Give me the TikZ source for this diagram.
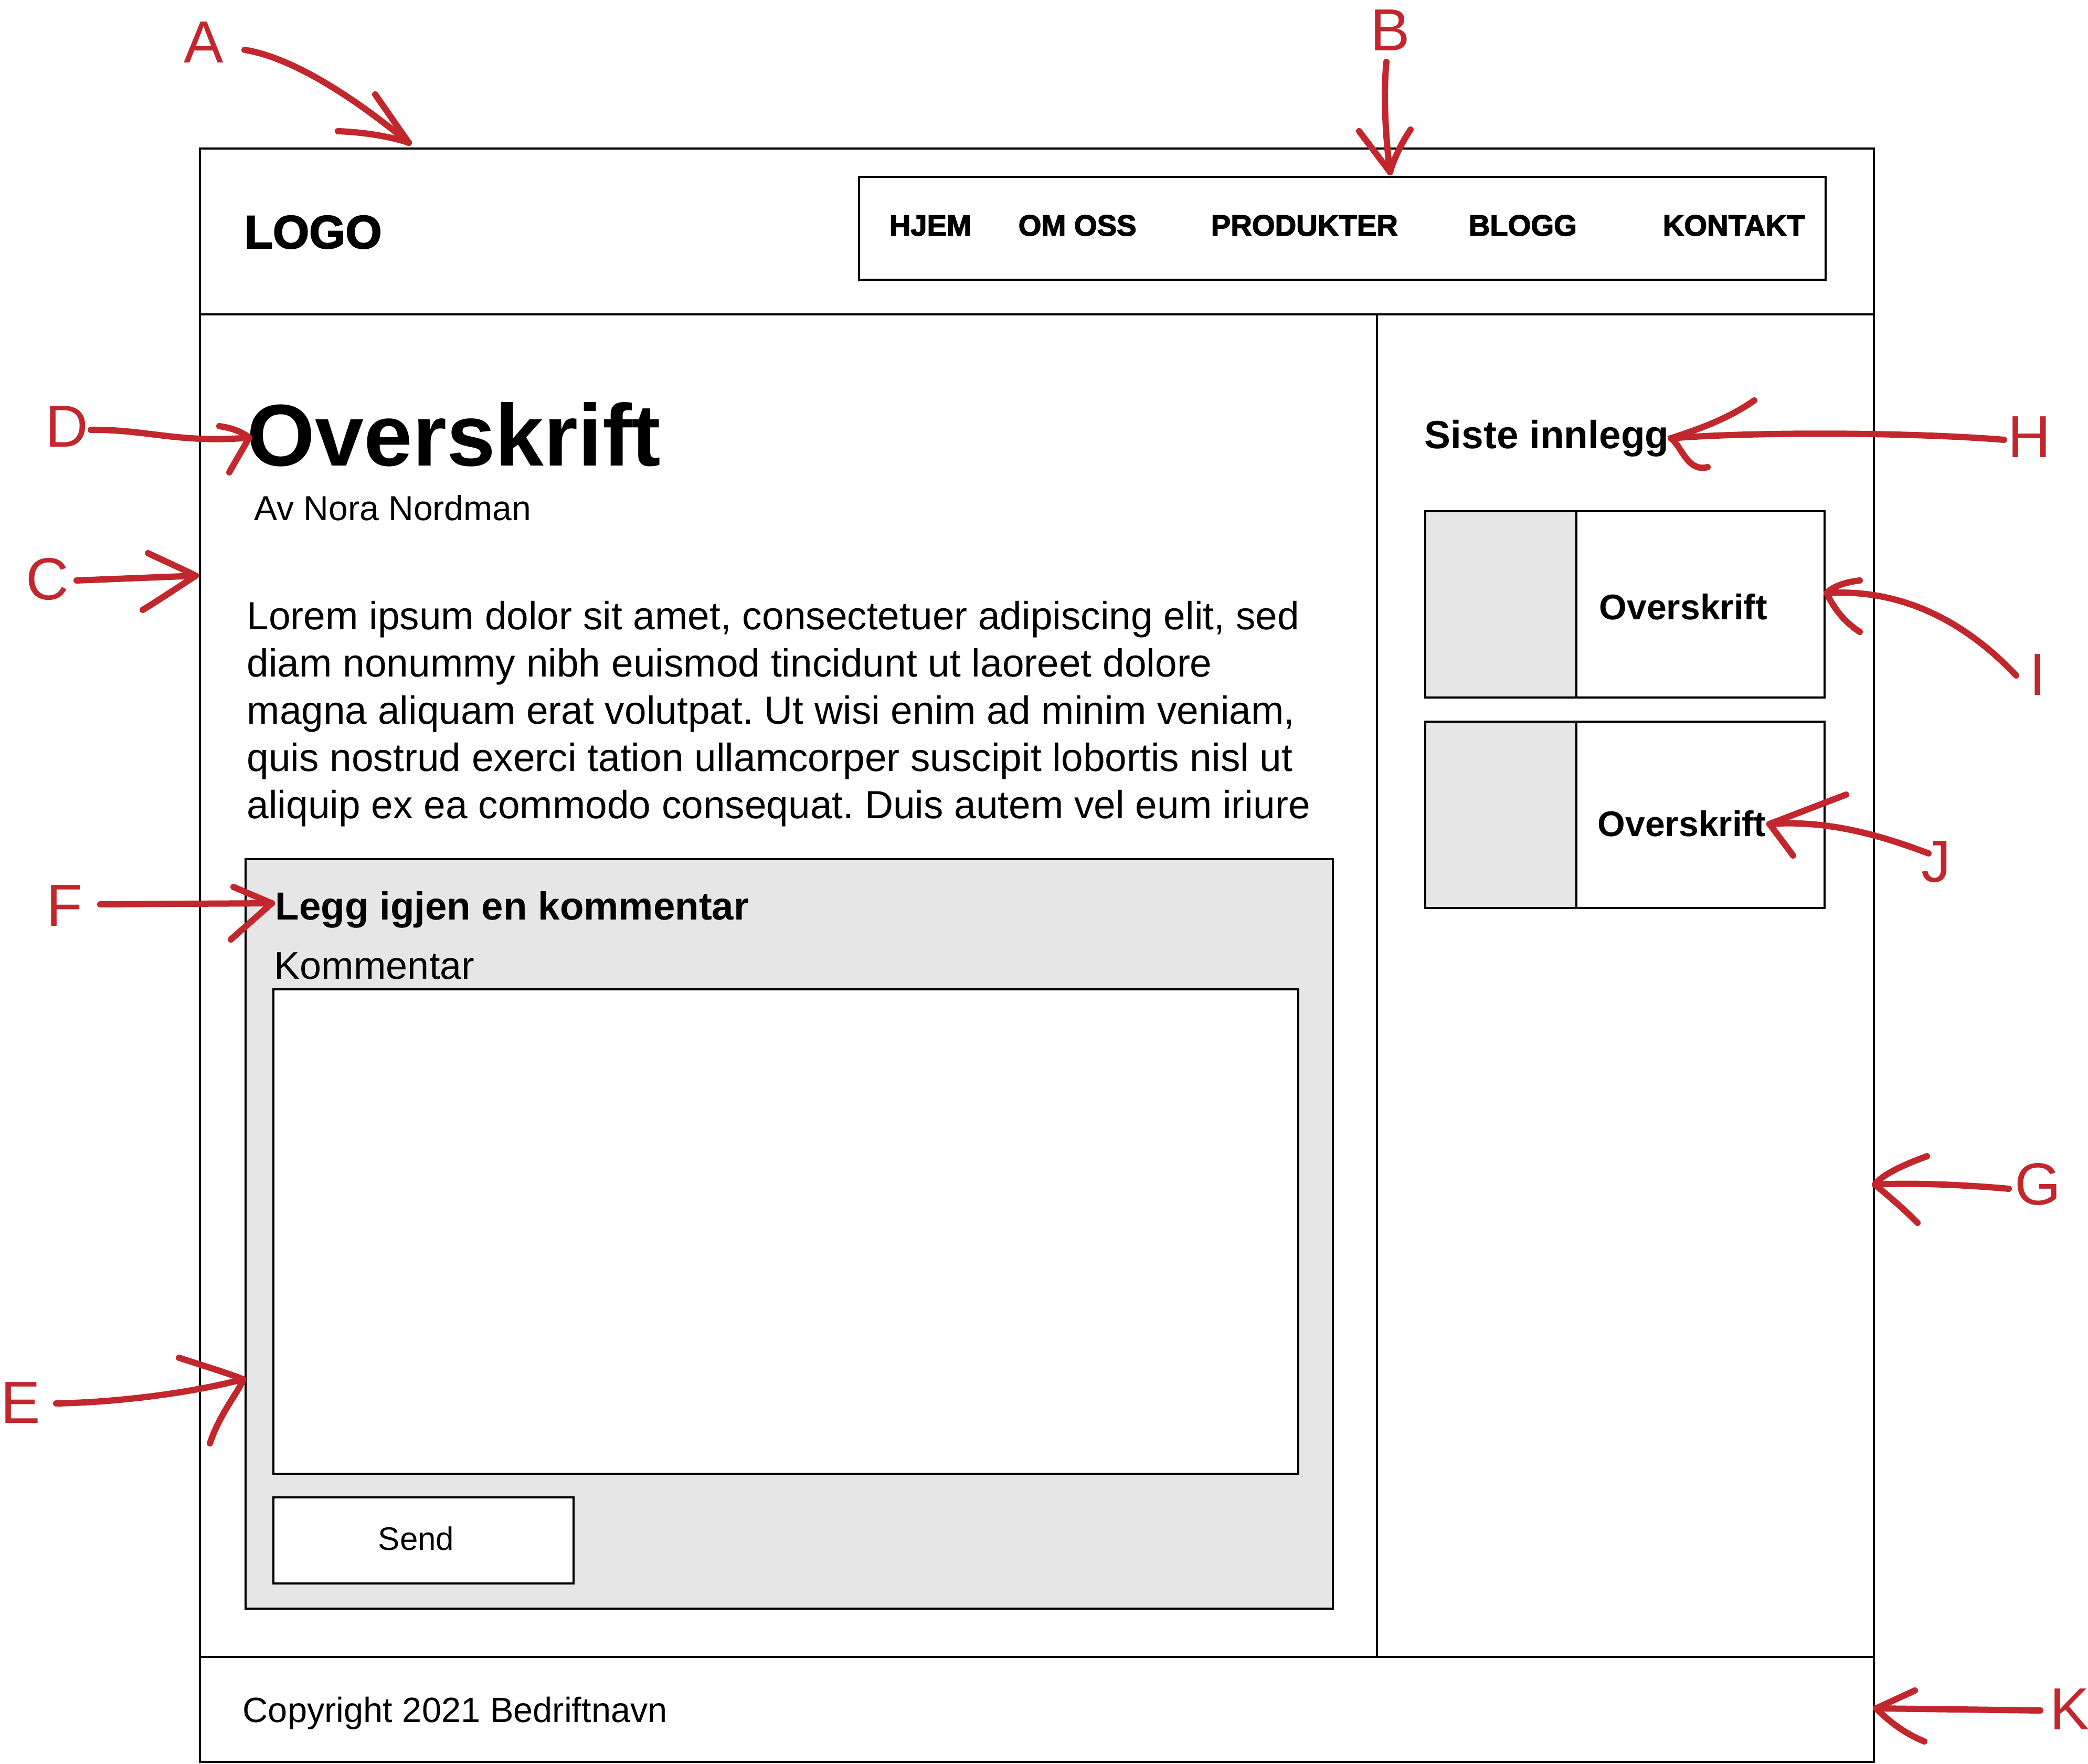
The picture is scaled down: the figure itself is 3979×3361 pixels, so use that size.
\documentclass[tikz,border=0pt]{standalone}
\usepackage{fontspec}
\setmainfont{Liberation Sans}
\newfontfamily\heavyfont[FakeBold=2.5]{Liberation Sans Bold}
\definecolor{markred}{RGB}{193,39,45}
\definecolor{panelgray}{RGB}{230,230,230}
\newcommand\fsz[1]{\fontsize{#1}{#1}\selectfont}
\frenchspacing
\begin{document}
\begin{tikzpicture}[x=0.1mm,y=-0.1mm,
  box/.style={draw=black,line width=0.45mm},
  txt/.style={inner sep=0pt,anchor=base west,text=black},
  redstroke/.style={draw=markred,line width=1.2mm,line cap=round,line join=round},
  lbl/.style={inner sep=0pt,anchor=base,text=markred,font=\fsz{32.2}}]
\useasboundingbox (0,0) rectangle (3979,3361);
\fill[white] (0,0) rectangle (3979,3361);

% page frame: header, content, footer
\draw[box] (381,283) rectangle (3571,599);
\draw[box] (381,599) rectangle (3571,3157);
\draw[box] (381,3157) rectangle (3571,3357);
\draw[box] (2624,599) -- (2624,3157);

% navigation bar
\draw[box] (1637,337) rectangle (3479,533);
\node[txt,font=\heavyfont\fsz{25.3}] (logo) at (465,473) {LOGO};
\node[txt,font=\heavyfont\fsz{16}] (nav1) at (1694,449) {HJEM};
\node[txt,font=\heavyfont\fsz{16}] (nav2) at (1940,449) {OM OSS};
\node[txt,font=\heavyfont\fsz{16}] (nav3) at (2307,449) {PRODUKTER};
\node[txt,font=\heavyfont\fsz{16}] (nav4) at (2798,449) {BLOGG};
\node[txt,font=\heavyfont\fsz{16}] (nav5) at (3168,449) {KONTAKT};

% article
\node[txt,font=\bfseries\fsz{47.5}] (title) at (470,888) {Overskrift};
\node[txt,font=\fsz{18.8}] (byline) at (484,992) {Av Nora Nordman};
\node[txt,font=\fsz{21.3}] (body1) at (470,1200) {Lorem ipsum dolor sit amet, consectetuer adipiscing elit, sed};
\node[txt,font=\fsz{21.3}] (body2) at (470,1290) {diam nonummy nibh euismod tincidunt ut laoreet dolore};
\node[txt,font=\fsz{21.3}] (body3) at (470,1380) {magna aliquam erat volutpat. Ut wisi enim ad minim veniam,};
\node[txt,font=\fsz{21.3}] (body4) at (470,1470) {quis nostrud exerci tation ullamcorper suscipit lobortis nisl ut};
\node[txt,font=\fsz{21.3}] (body5) at (470,1560) {aliquip ex ea commodo consequat. Duis autem vel eum iriure};

% comment form
\draw[box,fill=panelgray] (468,1637) rectangle (2540,3065);
\node[txt,font=\bfseries\fsz{21.2}] (formtitle) at (524,1752) {Legg igjen en kommentar};
\node[txt,font=\fsz{21}] (fieldlabel) at (522,1865) {Kommentar};
\draw[box,fill=white] (521,1885) rectangle (2474,2808);
\draw[box,fill=white] (521,2853) rectangle (1093,3017);
\node[inner sep=0pt,anchor=base,font=\fsz{17.6}] (send) at (793,2953) {Send};

% sidebar
\node[txt,font=\bfseries\fsz{21.3}] (recent) at (2714,855) {Siste innlegg};
\draw[box] (2716,974) rectangle (3477,1329);
\draw[box,fill=panelgray] (2716,974) rectangle (3004,1329);
\node[txt,font=\bfseries\fsz{19.3}] (card1) at (3047,1181) {Overskrift};
\draw[box] (2716,1375) rectangle (3477,1730);
\draw[box,fill=panelgray] (2716,1375) rectangle (3004,1730);
\node[txt,font=\bfseries\fsz{19.3}] (card2) at (3044,1594) {Overskrift};

% footer
\node[txt,font=\fsz{19}] (copy) at (462,3281) {Copyright 2021 Bedriftnavn};

% annotation letters
\node[lbl] (lA) at (388,120) {A};
\node[lbl] (lB) at (2649,97) {B};
\node[lbl] (lC) at (90,1143) {C};
\node[lbl] (lD) at (127,852) {D};
\node[lbl] (lE) at (39,2711) {E};
\node[lbl] (lF) at (123,1764) {F};
\node[lbl] (lG) at (3883,2295) {G};
\node[lbl] (lH) at (3867,872) {H};
\node[lbl] (lI) at (3883,1325) {I};
\node[lbl] (lJ) at (3690,1680) {J};
\node[lbl] (lK) at (3944,3295) {K};

% hand-drawn annotation arrows
% A
\coordinate (sA) at (466,95); \coordinate (tA) at (779,272);
\coordinate (aA1) at (715,180); \coordinate (aA2) at (644,250);
\draw[redstroke] (sA) .. controls (560,110) and (680,190) .. (tA);
\draw[redstroke] (aA1) -- (tA);
\draw[redstroke] (aA2) .. controls (700,252) and (750,262) .. (tA);
% B
\coordinate (sB) at (2642,118); \coordinate (tB) at (2649,328);
\coordinate (aB1) at (2590,250); \coordinate (aB2) at (2688,247);
\draw[redstroke] (sB) .. controls (2636,180) and (2640,260) .. (tB);
\draw[redstroke] (aB1) -- (tB);
\draw[redstroke] (aB2) .. controls (2672,270) and (2655,305) .. (tB);
% C
\coordinate (sC) at (146,1106); \coordinate (tC) at (373,1097);
\coordinate (aC1) at (282,1054); \coordinate (aC2) at (272,1162);
\draw[redstroke] (sC) -- (tC);
\draw[redstroke] (aC1) .. controls (320,1072) and (350,1085) .. (tC);
\draw[redstroke] (tC) .. controls (330,1125) and (300,1145) .. (aC2);
% D
\coordinate (sD) at (173,819); \coordinate (tD) at (475,834);
\coordinate (aD1) at (418,812); \coordinate (aD2) at (437,900);
\draw[redstroke] (sD) .. controls (280,818) and (340,845) .. (tD);
\draw[redstroke] (aD1) .. controls (440,815) and (460,822) .. (tD);
\draw[redstroke] (tD) .. controls (460,860) and (445,885) .. (aD2);
% E
\coordinate (sE) at (107,2674); \coordinate (tE) at (463,2628);
\coordinate (aE1) at (341,2587); \coordinate (aE2) at (400,2750);
\draw[redstroke] (sE) .. controls (220,2672) and (360,2655) .. (tE);
\draw[redstroke] (aE1) .. controls (390,2603) and (440,2618) .. (tE);
\draw[redstroke] (tE) .. controls (460,2645) and (420,2690) .. (aE2);
% F
\coordinate (sF) at (191,1723); \coordinate (tF) at (518,1721);
\coordinate (aF1) at (445,1690); \coordinate (aF2) at (440,1790);
\draw[redstroke] (sF) -- (tF);
\draw[redstroke] (aF1) -- (tF);
\draw[redstroke] (tF) -- (aF2);
% G
\coordinate (sG) at (3828,2265); \coordinate (tG) at (3573,2257);
\coordinate (aG1) at (3672,2203); \coordinate (aG2) at (3654,2330);
\draw[redstroke] (sG) .. controls (3750,2258) and (3650,2253) .. (tG);
\draw[redstroke] (aG1) .. controls (3620,2222) and (3585,2240) .. (tG);
\draw[redstroke] (tG) .. controls (3600,2280) and (3630,2305) .. (aG2);
% H
\coordinate (sH) at (3819,838); \coordinate (tH) at (3184,835);
\coordinate (aH1) at (3343,763); \coordinate (aH2) at (3254,890);
\draw[redstroke] (sH) .. controls (3650,824) and (3350,822) .. (tH);
\draw[redstroke] (aH1) .. controls (3290,800) and (3230,820) .. (tH);
\draw[redstroke] (tH) .. controls (3205,850) and (3215,900) .. (aH2);
% I
\coordinate (sI) at (3842,1287); \coordinate (tI) at (3481,1130);
\coordinate (aI1) at (3544,1106); \coordinate (aI2) at (3544,1204);
\draw[redstroke] (sI) .. controls (3760,1200) and (3640,1120) .. (tI);
\draw[redstroke] (aI1) .. controls (3510,1110) and (3490,1120) .. (tI);
\draw[redstroke] (tI) .. controls (3495,1160) and (3515,1185) .. (aI2);
% J
\coordinate (sJ) at (3675,1626); \coordinate (tJ) at (3372,1570);
\coordinate (aJ1) at (3518,1514); \coordinate (aJ2) at (3417,1630);
\draw[redstroke] (sJ) .. controls (3580,1590) and (3480,1562) .. (tJ);
\draw[redstroke] (aJ1) -- (tJ);
\draw[redstroke] (tJ) -- (aJ2);
% K
\coordinate (sK) at (3888,3259); \coordinate (tK) at (3575,3255);
\coordinate (aK1) at (3649,3221); \coordinate (aK2) at (3667,3318);
\draw[redstroke] (sK) -- (tK);
\draw[redstroke] (aK1) -- (tK);
\draw[redstroke] (tK) .. controls (3605,3285) and (3635,3305) .. (aK2);
\end{tikzpicture}
\end{document}
